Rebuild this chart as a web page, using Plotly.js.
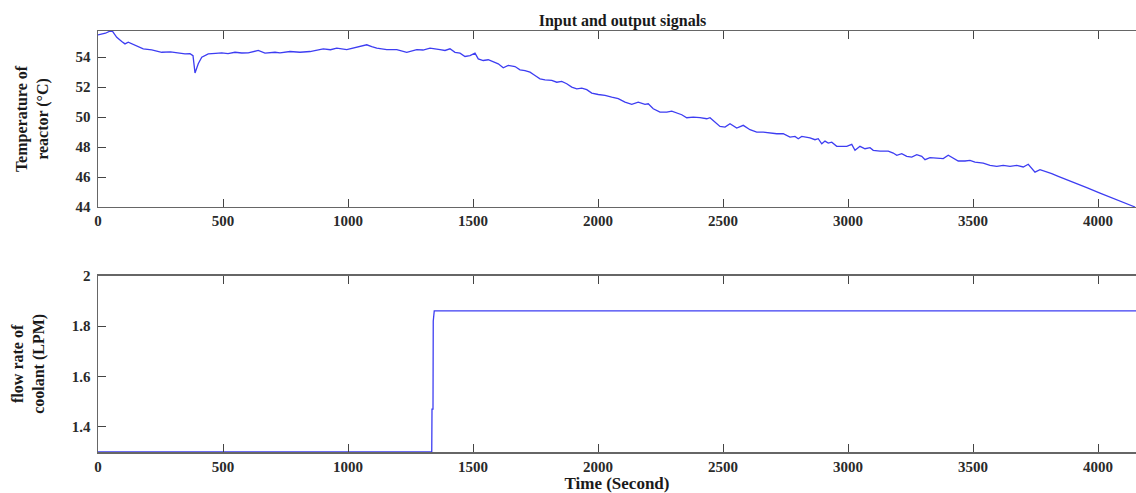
<!DOCTYPE html>
<html>
<head>
<meta charset="utf-8">
<script src="https://cdn.plot.ly/plotly-3.0.1.min.js"></script>
<style>
  html, body { margin: 0; padding: 0; background: #fff; }
  #chart { width: 1136px; height: 493px; }
</style>
</head>
<body>
<div id="chart"></div>
<script>
// Reactor temperature (output) sampled over the run, seconds
const tempTime = [0, 30, 55, 75, 95, 108, 121, 148, 181, 215, 255, 290, 308, 348, 368, 380, 388, 401, 415, 441,
  470, 495, 520, 548, 575, 601, 641, 668, 708, 728, 768, 808, 848, 875, 901, 930, 955, 995, 1035, 1075,
  1095, 1115, 1155, 1195, 1235, 1275, 1300, 1328, 1368,
  1388, 1408, 1428, 1448, 1468, 1488, 1508, 1521, 1541, 1561, 1588, 1601, 1621, 1641, 1668, 1688, 1708, 1728, 1748, 1768,
  1788, 1815, 1835, 1855, 1875, 1895, 1915, 1935, 1955, 1975, 2001, 2028, 2055, 2081, 2108,
  2135, 2161, 2188, 2201, 2221, 2248, 2275, 2295, 2315, 2335, 2355, 2381, 2408, 2435, 2448, 2468, 2488, 2508, 2528, 2555,
  2581, 2608, 2635, 2661, 2688, 2715, 2741, 2768, 2788,
  2801, 2815, 2848, 2868, 2881, 2895, 2908, 2921, 2935, 2955, 2995, 3015, 3028, 3048, 3068, 3088, 3101, 3128, 3161, 3181,
  3195, 3215, 3235, 3255, 3275, 3295, 3308, 3328, 3361, 3381, 3401, 3421, 3441, 3468, 3488, 3508,
  3541, 3568, 3595, 3621, 3648, 3675, 3701, 3721, 3735, 3748, 3768, 3788, 3815, 3841, 3901, 3955, 4008, 4061, 4115, 4148];
const tempValue = [55.49, 55.6, 55.8, 55.33, 55.05, 54.89, 55.0, 54.78, 54.56, 54.49, 54.33, 54.36, 54.33, 54.22, 54.24, 54.1, 52.95, 53.56, 54.0, 54.22,
  54.26, 54.29, 54.24, 54.33, 54.28, 54.29, 54.45, 54.27, 54.33, 54.29, 54.38, 54.33, 54.38, 54.45, 54.56, 54.5, 54.6, 54.51, 54.67, 54.83,
  54.7, 54.6, 54.51, 54.51, 54.33, 54.51, 54.48, 54.6, 54.51,
  54.45, 54.56, 54.33, 54.27, 54.05, 54.11, 54.27, 53.89, 53.78, 53.83, 53.67, 53.56, 53.29, 53.45, 53.38, 53.16, 53.11, 53.0, 52.78, 52.56,
  52.49, 52.45, 52.33, 52.38, 52.23, 52.0, 51.89, 51.93, 51.83, 51.6, 51.51, 51.45, 51.33, 51.23, 51.0,
  50.85, 51.0, 50.85, 50.89, 50.56, 50.33, 50.33, 50.4, 50.27, 50.16, 49.96, 50.0, 49.96, 49.89, 49.96, 49.67, 49.38, 49.33, 49.56, 49.27,
  49.45, 49.16, 49.0, 49.0, 48.93, 48.89, 48.89, 48.67, 48.71,
  48.56, 48.71, 48.62, 48.49, 48.56, 48.22, 48.4, 48.27, 48.33, 48.05, 48.05, 48.18, 47.78, 48.05, 47.89, 47.96, 47.78, 47.73, 47.73, 47.6,
  47.45, 47.56, 47.38, 47.33, 47.49, 47.38, 47.16, 47.29, 47.23, 47.23, 47.45, 47.23, 47.07, 47.07, 47.11, 47.0,
  46.93, 46.78, 46.71, 46.78, 46.71, 46.78, 46.67, 46.85, 46.56, 46.33, 46.49, 46.4, 46.23, 46.05, 45.67, 45.29, 44.93, 44.56, 44.23, 44.0];

// Coolant flow rate (input) step change, LPM
const flowTime = [0, 1335, 1336, 1340, 1341, 1345, 4152];
const flowValue = [1.3, 1.3, 1.47, 1.47, 1.82, 1.86, 1.86];

const xTicks = [0, 500, 1000, 1500, 2000, 2500, 3000, 3500, 4000];
const tempTicks = [44, 46, 48, 50, 52, 54];
const flowTicks = [1.4, 1.6, 1.8, 2];

const serif = 'Liberation Serif, Times New Roman, serif';
const tickFont = { family: serif, size: 15, color: '#2a2a2a', weight: 'bold' };
const titleFont = { family: serif, size: 16, color: '#1a1a1a', weight: 'bold' };
const lineBlue = '#3d3df2';

const xCommon = {
  range: [0, 4152],
  tickvals: xTicks,
  ticks: 'inside',
  ticklen: 8,
  tickcolor: '#444',
  tickwidth: 1,
  showline: true,
  linecolor: '#666',
  linewidth: 1.5,
  mirror: 'ticks',
  showgrid: false,
  zeroline: false,
  tickfont: tickFont,
  automargin: false
};
const yCommon = {
  ticks: 'inside',
  ticklen: 8,
  tickcolor: '#444',
  tickwidth: 1,
  showline: true,
  linecolor: '#666',
  linewidth: 1.5,
  mirror: true,
  showgrid: false,
  zeroline: false,
  tickfont: tickFont,
  ticklabelstandoff: 3,
  automargin: false
};

const traces = [
  { x: tempTime, y: tempValue, type: 'scatter', mode: 'lines',
    line: { color: lineBlue, width: 1.3 }, xaxis: 'x', yaxis: 'y', hoverinfo: 'x+y' },
  { x: flowTime, y: flowValue, type: 'scatter', mode: 'lines',
    line: { color: lineBlue, width: 1.3 }, xaxis: 'x2', yaxis: 'y2', hoverinfo: 'x+y' }
];

const layout = {
  width: 1136,
  height: 493,
  margin: { l: 98, r: 0, t: 31, b: 41 },
  paper_bgcolor: '#fff',
  plot_bgcolor: '#fff',
  showlegend: false,
  title: {
    text: 'Input and output signals',
    font: titleFont,
    x: 0.548, xanchor: 'center', xref: 'container',
    y: 0.959, yanchor: 'middle', yref: 'container'
  },
  xaxis: Object.assign({}, xCommon, { domain: [0, 1], anchor: 'y' }),
  yaxis: Object.assign({}, yCommon, {
    domain: [0.582, 1], range: [44, 55.75], tickvals: tempTicks, anchor: 'x',
    title: { text: 'Temperature of<br>reactor (°C)', standoff: 23, font: titleFont }
  }),
  xaxis2: Object.assign({}, xCommon, {
    domain: [0, 1], anchor: 'y2',
    title: { text: 'Time (Second)', standoff: 6, font: Object.assign({}, titleFont, { size: 17 }) }
  }),
  yaxis2: Object.assign({}, yCommon, {
    domain: [0, 0.4188], range: [1.3, 2.0], tickvals: flowTicks, anchor: 'x2',
    title: { text: 'flow rate of<br>coolant (LPM)', standoff: 23, font: titleFont }
  })
};

Plotly.newPlot('chart', traces, layout, { displayModeBar: false, staticPlot: true });
</script>
</body>
</html>
